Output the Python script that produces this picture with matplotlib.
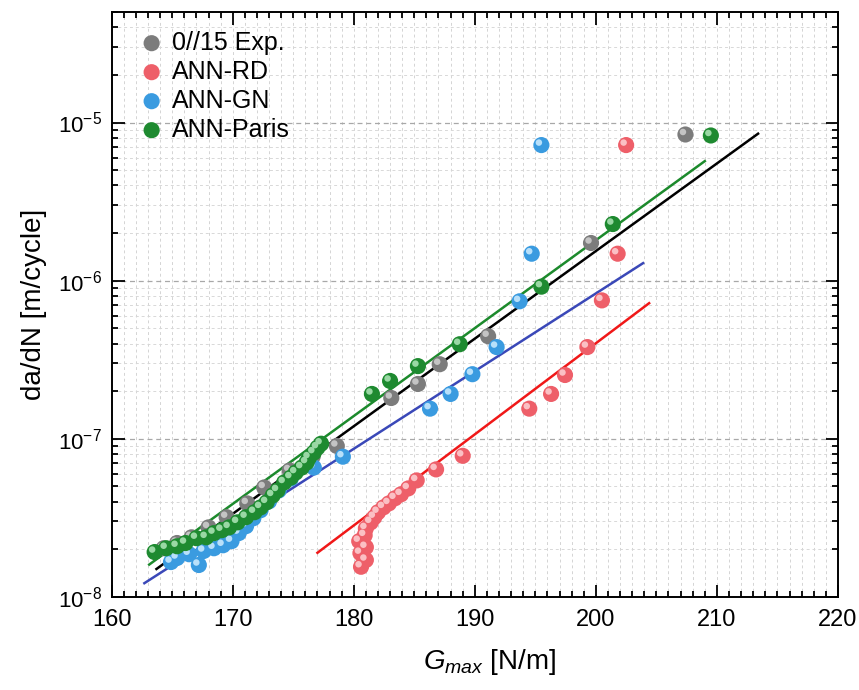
import numpy as np
import matplotlib.pyplot as plt
from matplotlib.transforms import offset_copy
from matplotlib.ticker import LogLocator, MultipleLocator, NullFormatter

plt.rcParams['font.family'] = ['Liberation Sans', 'DejaVu Sans']
plt.rcParams['mathtext.fontset'] = 'custom'
plt.rcParams['mathtext.rm'] = 'Liberation Sans'
plt.rcParams['mathtext.it'] = 'Liberation Sans:italic'

# experimental data 0//15
exp_g = [164.3, 165.4, 166.6, 168.0, 169.5, 171.2, 172.6, 174.7, 176.6, 178.6,
         183.1, 185.3, 187.1, 191.1, 199.6, 207.4]
exp_v = [2.03e-8, 2.19e-8, 2.38e-8, 2.75e-8, 3.19e-8, 3.9e-8, 4.92e-8, 6.3e-8,
         7.7e-8, 9.0e-8, 1.81e-7, 2.22e-7, 2.96e-7, 4.45e-7, 1.73e-6, 8.4e-6]

# ANN-RD
rd_g = [180.6, 181.0, 180.55, 181.0, 180.45, 180.9, 181.0, 181.4, 181.7, 182.0,
        182.45, 182.9, 183.4, 183.9, 184.5, 185.2, 186.8, 189.0, 194.5, 196.3,
        197.45, 199.3, 200.5, 201.8, 202.5]
rd_v = [1.55e-8, 1.71e-8, 1.89e-8, 2.06e-8, 2.25e-8, 2.45e-8, 2.71e-8, 2.96e-8,
        3.19e-8, 3.43e-8, 3.68e-8, 3.9e-8, 4.2e-8, 4.45e-8, 4.85e-8, 5.45e-8,
        6.4e-8, 7.8e-8, 1.55e-7, 1.92e-7, 2.53e-7, 3.8e-7, 7.5e-7, 1.48e-6, 7.2e-6]

# ANN-GN
gn_g = [164.9, 165.4, 166.4, 167.2, 167.6, 168.45, 169.2, 169.9, 170.5, 171.1,
        171.7, 172.3, 173.0, 173.8, 174.8, 176.7, 179.1, 186.3, 188.0, 189.8,
        191.8, 193.7, 194.7, 195.5]
gn_v = [1.66e-8, 1.76e-8, 1.86e-8, 1.59e-8, 1.95e-8, 2.03e-8, 2.12e-8, 2.25e-8,
        2.53e-8, 2.8e-8, 3.14e-8, 3.53e-8, 4.02e-8, 4.71e-8, 5.6e-8, 6.57e-8,
        7.7e-8, 1.55e-7, 1.92e-7, 2.56e-7, 3.8e-7, 7.4e-7, 1.48e-6, 7.2e-6]

# ANN-Paris
pa_g = [163.55, 164.5, 165.4, 166.1, 167.0, 167.8, 168.45, 169.1, 169.7, 170.4,
        171.1, 171.8, 172.3, 172.8, 173.3, 173.7, 174.25, 174.8, 175.2, 175.7,
        176.1, 176.3, 176.7, 177.0, 177.3, 181.5, 183.0, 185.3, 188.75, 195.5,
        201.4, 209.5]
pa_v = [1.92e-8, 2.03e-8, 2.09e-8, 2.19e-8, 2.35e-8, 2.38e-8, 2.53e-8, 2.64e-8,
        2.75e-8, 2.96e-8, 3.19e-8, 3.43e-8, 3.68e-8, 3.96e-8, 4.38e-8, 4.71e-8,
        5.29e-8, 5.68e-8, 6.11e-8, 6.57e-8, 7.07e-8, 7.6e-8, 8.17e-8, 8.78e-8,
        9.3e-8, 1.92e-7, 2.32e-7, 2.88e-7, 3.96e-7, 9.16e-7, 2.28e-6, 8.28e-6]

# fitted lines (end points)
fit_exp_g, fit_exp_v = [163.7, 213.4], [1.5e-8, 8.5e-6]
fit_pa_g, fit_pa_v = [163.1, 209.0], [1.6e-8, 5.7e-6]
fit_gn_g, fit_gn_v = [162.7, 203.9], [1.22e-8, 1.29e-6]
fit_rd_g, fit_rd_v = [177.0, 204.4], [1.9e-8, 7.2e-7]

fig = plt.figure(figsize=(8.59, 6.9), dpi=100)
ax = fig.add_axes([0.130, 0.135, 0.8455, 0.8476])

# grid
ax.set_axisbelow(True)
ax.grid(which='major', axis='y', ls=(0, (4, 3)), color='#a8a8a8', lw=0.9)
ax.grid(which='minor', axis='y', ls=(0, (3, 3)), color='#d8d8d8', lw=0.7)
ax.grid(which='both', axis='x', ls=(0, (3, 3)), color='#d4d4d4', lw=0.7)

# lines
ax.plot(fit_exp_g, fit_exp_v, color='black', lw=1.8, zorder=3)
ax.plot(fit_pa_g, fit_pa_v, color='#1c8a2c', lw=1.8, zorder=3)
ax.plot(fit_gn_g, fit_gn_v, color='#3a48b8', lw=1.8, zorder=3)
ax.plot(fit_rd_g, fit_rd_v, color='#f01818', lw=1.8, zorder=3)

# sphere-like markers
hl = offset_copy(ax.transData, fig=fig, x=-1.8, y=1.8, units='points')
series = [
    (exp_g, exp_v, '#7c7c7c', '#c4c4c4', '0//15 Exp.'),
    (rd_g, rd_v, '#ee5f69', '#fbc0c4', 'ANN-RD'),
    (gn_g, gn_v, '#3a9be0', '#b8e0fa', 'ANN-GN'),
    (pa_g, pa_v, '#1e8a30', '#9ad8a4', 'ANN-Paris'),
]
handles = []
for g, v, c, light, lab in series:
    h = ax.scatter(g, v, s=135, color=c, edgecolors='none', zorder=4, label=lab)
    ax.scatter(g, v, s=22, color=light, edgecolors='none', zorder=4, transform=hl)
    handles.append(h)

ax.set_yscale('log')
ax.set_xlim(160, 220)
ax.set_ylim(1e-8, 5e-5)
ax.xaxis.set_major_locator(MultipleLocator(10))
ax.xaxis.set_minor_locator(MultipleLocator(1))
ax.yaxis.set_minor_locator(LogLocator(base=10, subs=np.arange(2, 10), numticks=20))
ax.yaxis.set_minor_formatter(NullFormatter())
ax.set_yticks([1e-8, 1e-7, 1e-6, 1e-5])
ax.set_yticklabels([r'10$^{-8}$', r'10$^{-7}$', r'10$^{-6}$', r'10$^{-5}$'])

ax.tick_params(which='both', direction='in', top=True, right=True, width=1.3)
ax.tick_params(which='major', length=9)
ax.tick_params(which='minor', length=4.5)
ax.tick_params(axis='x', labelsize=17, pad=9)
ax.tick_params(axis='y', labelsize=16, pad=7)
for sp in ax.spines.values():
    sp.set_linewidth(1.4)

ax.set_xlabel(r'$G_{max}$ [N/m]', fontsize=20, labelpad=12)
ax.xaxis.set_label_coords(0.52, -0.085, transform=ax.transAxes)
ax.xaxis.label.set_va('top')
ax.set_ylabel('da/dN [m/cycle]', fontsize=20, labelpad=8)

ax.legend(handles=handles, loc='upper left', frameon=False, fontsize=18,
          handlelength=1.0, handletextpad=0.3, labelspacing=0.2,
          borderaxespad=0.3, borderpad=0.45, bbox_to_anchor=(0.012, 1.0))

fig.savefig('out.png', dpi=100)
